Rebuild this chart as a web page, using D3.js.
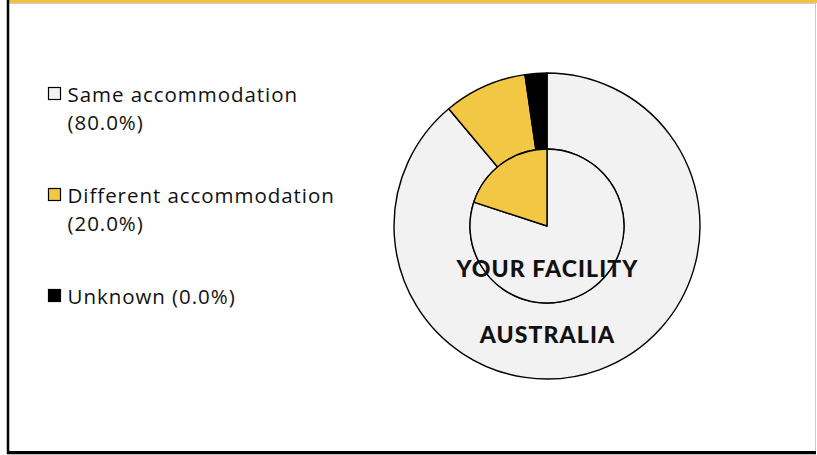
<!DOCTYPE html>
<html><head><meta charset="utf-8">
<script src="https://cdn.jsdelivr.net/npm/d3@7"></script>
<style>html,body{margin:0;padding:0;background:#fff;}svg{display:block;}</style>
</head><body>
<script>
const categories = ["Same accommodation", "Different accommodation", "Unknown"];
const facilityValues = [80.0, 20.0, 0.0];
const australiaValues = [88.9, 8.8, 2.3];
const ringLabels = ["YOUR FACILITY", "AUSTRALIA"];
const colors = ["#F2F2F2", "#F2C744", "#000000"];

const W = 817, H = 455;
const svg = d3.select("body").append("svg").attr("width", W).attr("height", H);

// frame
svg.append("rect").attr("x", 0).attr("y", 0).attr("width", W).attr("height", H).attr("fill", "#fff");
svg.append("rect").attr("x", 8).attr("y", 0).attr("width", 809).attr("height", 3).attr("fill", "#F0C23E");
svg.append("line").attr("x1", 9).attr("x2", 816).attr("y1", 3.5).attr("y2", 3.5).attr("stroke", "#d0d0d0").attr("stroke-width", 1);
svg.append("line").attr("x1", 815.5).attr("x2", 815.5).attr("y1", 3).attr("y2", 452).attr("stroke", "#c8c8c8").attr("stroke-width", 1);
svg.append("line").attr("x1", 8).attr("x2", 8).attr("y1", 0).attr("y2", 454).attr("stroke", "#000").attr("stroke-width", 2.5);
svg.append("line").attr("x1", 7).attr("x2", 816).attr("y1", 452.5).attr("y2", 452.5).attr("stroke", "#000").attr("stroke-width", 3);
svg.append("line").attr("x1", 7).attr("x2", 816).attr("y1", 454.5).attr("y2", 454.5).attr("stroke", "#bdbdbd").attr("stroke-width", 1);

// pies
const cx = 547, cy = 226, rIn = 77, rOut = 153;
const pie = d3.pie().sort(null).value(d => d).startAngle(0).endAngle(2 * Math.PI);
const g = svg.append("g").attr("transform", `translate(${cx},${cy})`);

const arcOuter = d3.arc().innerRadius(rIn).outerRadius(rOut);
const arcInner = d3.arc().innerRadius(0).outerRadius(rIn);

g.append("g").selectAll("path").data(pie(australiaValues)).join("path")
  .attr("d", arcOuter).attr("fill", (d, i) => colors[i])
  .attr("stroke", "#000").attr("stroke-width", 1.4).attr("stroke-linejoin", "round");
g.append("g").selectAll("path").data(pie(facilityValues).filter(d => d.value > 0)).join("path")
  .attr("d", arcInner).attr("fill", d => colors[d.index])
  .attr("stroke", "#000").attr("stroke-width", 1.4).attr("stroke-linejoin", "round");

// ring labels
const labelY = [277, 343];
svg.selectAll("text.ring").data(ringLabels).join("text").attr("class", "ring")
  .attr("x", cx + 0.5).attr("y", (d, i) => labelY[i])
  .attr("text-anchor", "middle")
  .attr("font-family", "Lato, 'Open Sans', sans-serif").attr("font-weight", 900)
  .attr("letter-spacing", 1.1)
  .attr("font-size", 23).attr("fill", "#111").text(d => d);

// legend
const legendLines = categories.map((c, i) => {
  const pct = "(" + facilityValues[i].toFixed(1) + "%)";
  return i === 2 ? [c + " " + pct] : [c, pct];
});
const lg = svg.append("g");
const items = lg.selectAll("g").data(legendLines).join("g")
  .attr("transform", (d, i) => `translate(48,${87 + i * 101})`);
items.append("rect").attr("x", 0.5).attr("y", 0.5).attr("width", 12).attr("height", 12)
  .attr("fill", (d, i) => colors[i]).attr("stroke", "#000").attr("stroke-width", 1.2);
items.each(function (lines) {
  const t = d3.select(this).append("text")
    .attr("font-family", "'Open Sans', sans-serif").attr("font-size", 20.5)
    .attr("letter-spacing", 0.95)
    .attr("font-weight", 400).attr("fill", "#111");
  lines.forEach((l, j) => {
    t.append("tspan").attr("x", 19.5).attr("y", 15 + j * 28).text(l);
  });
});
</script>
</body></html>
